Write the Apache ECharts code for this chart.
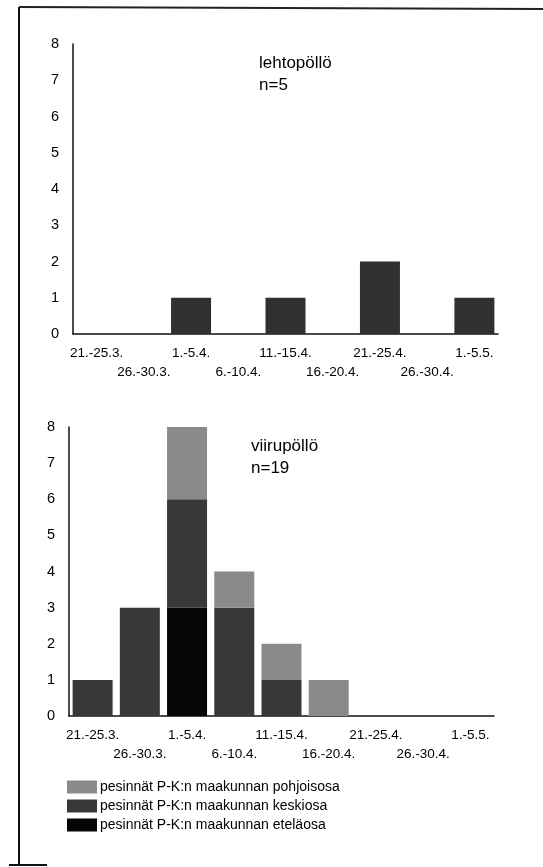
<!DOCTYPE html>
<html>
<head>
<meta charset="utf-8">
<script src="https://cdn.jsdelivr.net/npm/echarts@6/dist/echarts.min.js"></script>
<style>
html,body{margin:0;padding:0;background:#fff;}
#c{width:543px;height:867px;}
</style>
</head>
<body>
<div id="c"></div>
<script>
var categories = ['21.-25.3.','26.-30.3.','1.-5.4.','6.-10.4.','11.-15.4.','16.-20.4.','21.-25.4.','26.-30.4.','1.-5.5.'];
var yTicks = [0,1,2,3,4,5,6,7,8];
var lehtopollo = [0,0,1,0,1,0,2,0,1];
var etelaosa   = [0,0,3,0,0,0,0,0,0];
var keskiosa   = [1,3,3,3,1,0,0,0,0];
var pohjoisosa = [0,0,2,1,1,1,0,0,0];
var seriesNames = ['pesinnät P-K:n maakunnan pohjoisosa','pesinnät P-K:n maakunnan keskiosa','pesinnät P-K:n maakunnan eteläosa'];
var titleTop = 'lehtopöllö\nn=5';
var titleBottom = 'viirupöllö\nn=19';

var FONT = '"Liberation Sans", Arial, Helvetica, sans-serif';
var chart = echarts.init(document.getElementById('c'), null, {renderer:'canvas'});

function xAxisCfg(gi){
  return {
    type:'category', gridIndex:gi, data:categories,
    axisLine:{lineStyle:{color:'#111',width:1.5}},
    axisTick:{alignWithLabel:true,length:6,lineStyle:{color:'#111',width:1.5}},
    axisLabel:{interval:0,margin:10,color:'#000',fontFamily:FONT,fontSize:13.5,lineHeight:19,
      formatter:function(v,i){return i%2 ? '\n'+v : v;}},
    splitLine:{show:false}
  };
}
function yAxisCfg(gi){
  return {
    type:'value', gridIndex:gi, min:0, max:8, interval:1,
    axisLine:{show:true,lineStyle:{color:'#111',width:1.5}},
    axisTick:{show:false},
    axisLabel:{margin:14,color:'#000',fontFamily:FONT,fontSize:14.5,
      formatter:function(v){return yTicks.indexOf(v)>=0 ? String(v) : '';}},
    splitLine:{show:false}
  };
}

chart.setOption({
  animation:false,
  backgroundColor:'#fff',
  textStyle:{fontFamily:FONT},
  title:[
    {text:titleTop,left:254,top:47,textStyle:{fontFamily:FONT,fontSize:17,fontWeight:'normal',color:'#000',lineHeight:22}},
    {text:titleBottom,left:246,top:430,textStyle:{fontFamily:FONT,fontSize:17,fontWeight:'normal',color:'#000',lineHeight:22}}
  ],
  legend:{
    data:seriesNames, orient:'vertical', left:62, top:775,
    itemWidth:30, itemHeight:13, itemGap:5, icon:'rect',
    textStyle:{fontFamily:FONT,fontSize:14,color:'#000',padding:[0,0,0,-2]},
    selectedMode:false
  },
  grid:[
    {left:73,top:44,width:425,height:290},
    {left:69,top:427,width:425,height:289}
  ],
  xAxis:[xAxisCfg(0),xAxisCfg(1)],
  yAxis:[yAxisCfg(0),yAxisCfg(1)],
  series:[
    {name:'lehtopöllö',type:'bar',xAxisIndex:0,yAxisIndex:0,data:lehtopollo,barWidth:40,
      itemStyle:{color:'#303030'}},
    {name:seriesNames[2],type:'bar',stack:'v',xAxisIndex:1,yAxisIndex:1,data:etelaosa,barWidth:40,
      itemStyle:{color:'#060606'}},
    {name:seriesNames[1],type:'bar',stack:'v',xAxisIndex:1,yAxisIndex:1,data:keskiosa,barWidth:40,
      itemStyle:{color:'#383838'}},
    {name:seriesNames[0],type:'bar',stack:'v',xAxisIndex:1,yAxisIndex:1,data:pohjoisosa,barWidth:40,
      itemStyle:{color:'#8a8a8a'}}
  ],
  graphic:[
    {type:'line',shape:{x1:19,y1:7,x2:19,y2:865},style:{stroke:'#111',lineWidth:2}},
    {type:'line',shape:{x1:19,y1:7,x2:543,y2:9},style:{stroke:'#222',lineWidth:2}},
    {type:'line',shape:{x1:9,y1:865,x2:47,y2:865},style:{stroke:'#111',lineWidth:2}}
  ]
});
</script>
</body>
</html>
